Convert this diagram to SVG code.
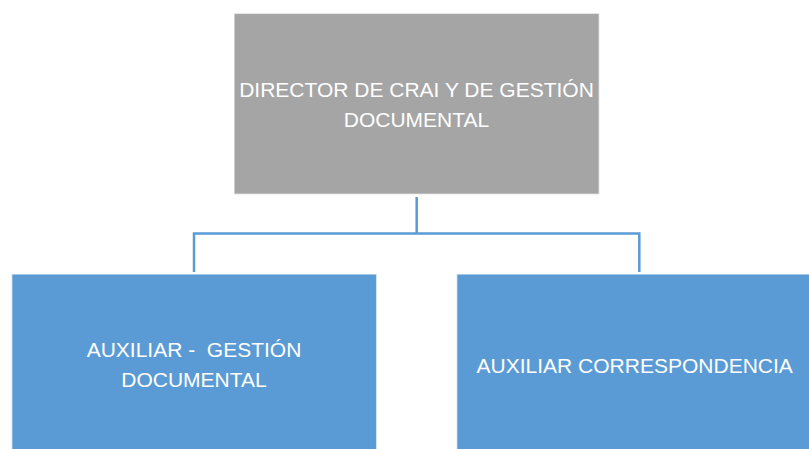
<svg xmlns="http://www.w3.org/2000/svg" width="809" height="449" viewBox="0 0 809 449">
<style>
.box{stroke:#ffffff;stroke-opacity:0.6;stroke-width:1.5}
.gray{fill:#a5a5a5}
.blue{fill:#5b9bd5}
.lbl{font-family:"Liberation Sans",Arial,sans-serif;font-size:21px;fill:#ffffff;text-anchor:middle;white-space:pre}
.conn{fill:none;stroke:#5b9bd5;stroke-width:2.5}
</style>
<rect width="809" height="449" fill="#ffffff"/>
<g id="connectors">
<path class="conn" d="M416.7 197 V233.5 M194 233.5 H639.3 M194 232.3 V272 M639.3 232.3 V272"/>
</g>
<g id="director">
<rect class="box gray" x="234" y="13.3" width="365.3" height="181"/>
<text class="lbl" x="416.5" y="96.7">DIRECTOR DE CRAI Y DE GESTIÓN</text>
<text class="lbl" x="416.5" y="126.7">DOCUMENTAL</text>
</g>
<g id="aux-gestion">
<rect class="box blue" x="11.7" y="274" width="365" height="180"/>
<text class="lbl" x="194" y="357.3">AUXILIAR -  GESTIÓN</text>
<text class="lbl" x="194" y="386.7">DOCUMENTAL</text>
</g>
<g id="aux-correspondencia">
<rect class="box blue" x="456.7" y="274" width="360" height="180"/>
<text class="lbl" x="634.7" y="373.3">AUXILIAR CORRESPONDENCIA</text>
</g>
</svg>
